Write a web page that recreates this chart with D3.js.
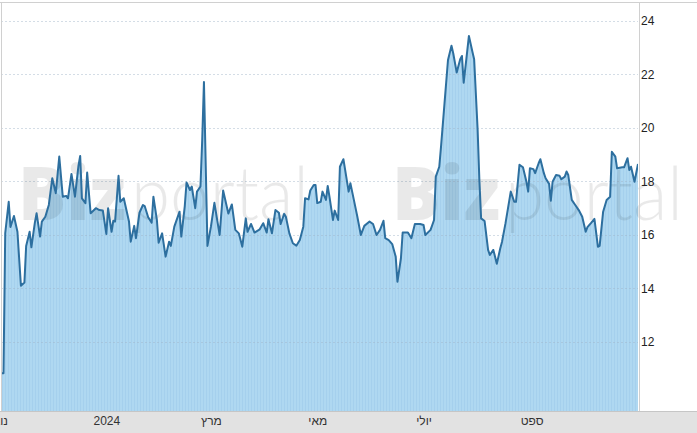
<!DOCTYPE html>
<html><head><meta charset="utf-8">
<script src="https://cdn.jsdelivr.net/npm/d3@7"></script>
<style>
html,body{margin:0;padding:0;background:#fff;}
svg{display:block;font-family:"Liberation Sans",Arial,sans-serif;}
</style></head>
<body><svg id="c" width="697" height="433"></svg>
<script>
// ---- data ----
const startDate = "2023-11-01";
const endDate = "2024-11-01";
const dayOffsets = [0,2,3,5,6,8,10,12,14,15,17,18,20,21,23,24,26,28,30,32,34,36,38,39,41,43,45,46,47,49,50,52,55,57,59,61,62,64,65,66,68,69,71,74,75,77,78,80,82,83,85,87,88,90,91,93,95,97,98,100,103,104,106,107,109,110,112,113,115,116,117,119,121,123,126,128,131,133,135,137,139,141,142,144,146,149,151,153,154,156,158,160,161,163,164,166,168,170,172,174,175,177,178,180,181,182,184,185,187,188,189,191,192,194,195,197,198,200,201,203,205,207,209,212,214,216,218,220,221,223,225,227,228,230,231,234,236,238,241,243,244,247,249,250,252,253,255,257,259,260,262,264,265,266,268,269,271,272,274,275,276,278,280,281,283,284,285,287,288,290,293,295,296,298,300,302,303,304,306,307,309,310,312,313,315,316,317,319,321,322,324,325,326,328,330,332,334,336,337,339,341,343,344,346,348,350,351,353,354,357,358,360,361,362,364,366];
const prices = [10.83,10.83,16.07,17.24,16.30,16.71,16.12,14.10,14.22,15.59,16.12,15.54,16.46,16.81,15.94,16.50,16.68,17.12,18.12,17.56,18.93,17.43,17.46,17.37,18.28,17.43,18.58,18.95,17.37,17.19,18.33,16.81,17.00,16.93,16.91,16.04,17.00,16.12,16.53,16.50,18.21,17.24,17.37,16.50,15.75,16.34,15.88,16.83,17.12,17.08,16.66,16.46,17.43,16.56,15.71,16.06,15.19,15.75,15.59,16.31,16.87,15.94,17.08,17.96,17.68,17.81,17.00,17.62,17.81,19.55,21.72,15.59,16.31,17.20,16.00,17.66,16.80,17.14,16.19,16.06,15.56,16.62,16.12,16.41,16.09,16.21,16.44,16.09,16.59,16.06,16.93,16.83,16.41,16.79,16.68,16.06,15.69,15.60,15.81,16.31,17.37,17.33,17.66,17.87,17.87,17.19,17.24,17.62,17.31,17.83,17.43,16.56,16.91,16.56,18.55,18.83,18.43,17.62,17.93,17.31,16.68,16.00,16.34,16.50,16.41,16.00,16.19,16.53,15.88,15.81,15.66,15.19,14.25,15.13,16.09,16.09,15.88,16.41,16.41,16.37,16.00,16.19,16.56,18.18,18.55,19.30,20.92,22.54,23.07,22.79,22.07,22.57,22.69,21.69,22.85,23.44,22.85,22.57,19.93,18.06,16.62,16.52,15.44,15.25,15.44,15.19,14.92,15.50,15.75,16.44,17.62,17.24,17.24,18.62,18.53,17.99,17.62,18.49,18.46,18.31,18.68,18.83,18.31,18.12,17.91,17.28,17.99,18.24,18.21,18.08,18.18,18.37,18.24,17.31,17.12,16.93,16.68,16.12,16.29,16.44,16.60,15.56,15.59,16.87,17.31,17.43,19.11,18.93,18.49,18.53,18.53,18.87,18.43,18.55,17.99,18.65];
const yTickValues = [12,14,16,18,20,22,24];
const xTickDates = ["2023-11-01","2024-01-01","2024-03-01","2024-05-01","2024-07-01","2024-09-01"];
const xTickLabels = ["נוב","2024","מרץ","מאי","יולי","ספט"];
const yDomain = [9.42, 24.67];

// ---- layout ----
const W = 697, H = 433;
const plotL = 1, plotR = 638, plotT = 3, plotB = 411;
const svg = d3.select("#c");
const parse = d3.timeParse("%Y-%m-%d");
const t0 = parse(startDate);
const data = dayOffsets.map((d, i) => ({date: d3.timeDay.offset(t0, d), v: prices[i]}));

const x = d3.scaleTime().domain([t0, parse(endDate)]).range([0, plotR]);
const y = d3.scaleLinear().domain(yDomain).range([plotB, plotT]);

// defs: stripe pattern + clip
const defs = svg.append("defs");
const pat = defs.append("pattern").attr("id","stripes").attr("patternUnits","userSpaceOnUse")
  .attr("width",3).attr("height",10);
pat.append("rect").attr("width",3).attr("height",10).attr("fill","#afd8f1");
pat.append("rect").attr("x",2).attr("width",1).attr("height",10).attr("fill","#a5d0ed");
defs.append("clipPath").attr("id","clip").append("rect")
  .attr("x",plotL).attr("y",plotT).attr("width",plotR-plotL).attr("height",plotB-plotT);

// background
svg.append("rect").attr("width",W).attr("height",H).attr("fill","#fff");

// area
const area = d3.area().x(d => x(d.date)).y0(plotB).y1(d => y(d.v));
svg.append("path").datum(data).attr("clip-path","url(#clip)")
  .attr("d", area).attr("fill","url(#stripes)");

// gridlines
svg.append("g").selectAll("line").data(yTickValues).join("line")
  .attr("x1",plotL).attr("x2",plotR)
  .attr("y1",d=>Math.round(y(d))+0.5).attr("y2",d=>Math.round(y(d))+0.5)
  .attr("stroke","#9fb4c8").attr("stroke-opacity",0.45)
  .attr("stroke-dasharray","2,2");

// watermark
const wm = svg.append("g").attr("fill","#000").attr("fill-opacity",0.085);
[18,392].forEach(wx => {
  wm.append("text").attr("x",wx).attr("y",220)
    .attr("font-family","'Open Sans',Arial,sans-serif").attr("font-size",74)
    .attr("font-weight",800).attr("textLength",108).attr("lengthAdjust","spacingAndGlyphs").text("Biz");
  wm.append("text").attr("x",wx+113).attr("y",220)
    .attr("font-family","Lato,'Open Sans',sans-serif").attr("font-size",74)
    .attr("font-weight",300).attr("textLength",178).attr("lengthAdjust","spacingAndGlyphs").text("portal");
});

// line
const line = d3.line().x(d => x(d.date)).y(d => y(d.v));
svg.append("path").datum(data).attr("clip-path","url(#clip)")
  .attr("d", line).attr("fill","none").attr("stroke","#2d6f9f")
  .attr("stroke-width",2).attr("stroke-linejoin","round");

// frame
svg.append("line").attr("x1",0).attr("x2",W).attr("y1",2.5).attr("y2",2.5).attr("stroke","#d0d0d0");
svg.append("line").attr("x1",1.5).attr("x2",1.5).attr("y1",2).attr("y2",plotB).attr("stroke","#d0d0d0");
svg.append("line").attr("x1",639.5).attr("x2",639.5).attr("y1",2).attr("y2",plotB).attr("stroke","#d0d0d0");

// bottom band
svg.append("rect").attr("x",0).attr("y",plotB).attr("width",W).attr("height",H-plotB).attr("fill","#e2e2e2");
svg.append("line").attr("x1",0).attr("x2",W).attr("y1",plotB+0.5).attr("y2",plotB+0.5).attr("stroke","#c6c6c6");

// x axis labels
const xAxis = d3.axisBottom(x).tickValues(xTickDates.map(parse))
  .tickFormat((d,i) => xTickLabels[i]).tickSize(0).tickPadding(0);
const gx = svg.append("g").attr("transform",`translate(0,${plotB+5})`).call(xAxis);
gx.select(".domain").remove();
gx.selectAll("text").attr("font-size",12).attr("fill","#333").attr("dy","0.71em")
  .attr("font-family","'Liberation Sans',Arial,sans-serif");

// y axis labels
const yAxis = d3.axisRight(y).tickValues(yTickValues).tickSize(0).tickPadding(2);
const gy = svg.append("g").attr("transform",`translate(639,0)`).call(yAxis);
gy.select(".domain").remove();
gy.selectAll("text").attr("font-size",12).attr("fill","#222")
  .attr("font-family","'Liberation Sans',Arial,sans-serif");
</script></body></html>
